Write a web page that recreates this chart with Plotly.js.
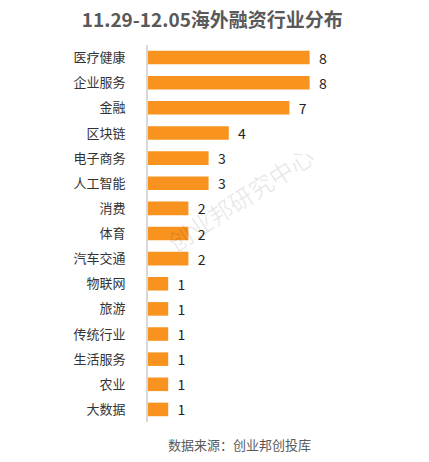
<!DOCTYPE html>
<html>
<head>
<meta charset="utf-8">
<script src="https://cdn.plot.ly/plotly-3.0.1.min.js"></script>
<style>html,body{margin:0;padding:0;background:#fff;}#chart{width:429px;height:462px;}</style>
</head>
<body>
<div id="chart"></div>
<script>
const categories = ["医疗健康","企业服务","金融","区块链","电子商务","人工智能","消费","体育","汽车交通","物联网","旅游","传统行业","生活服务","农业","大数据"];
const counts = [8,8,7,4,3,3,2,2,2,1,1,1,1,1,1];
const titleText = "11.29-12.05海外融资行业分布";
const sourceText = "数据来源：创业邦创投库";
const watermarkText = "创业邦研究中心";

const font = "'Noto Sans CJK SC', 'Microsoft YaHei', sans-serif";

const trace = {
  type: 'bar',
  orientation: 'h',
  y: categories,
  x: counts,
  marker: {color: '#F7931E', line: {width: 0}},
  text: counts.map(v => String(v)),
  textposition: 'outside',
  texttemplate: '  %{text}',
  constraintext: 'none',
  textfont: {family: font, size: 14, color: '#222'},
  cliponaxis: false,
  hoverinfo: 'none',
  width: 0.54
};

const layout = {
  width: 429, height: 462,
  margin: {l: 148, r: 78.5, t: 44.5, b: 39.5},
  paper_bgcolor: '#fff', plot_bgcolor: '#fff',
  showlegend: false,
  title: {text: '<b>' + titleText + '</b>', font: {family: font, size: 19, color: '#595959'}, x: 0.495, xanchor: 'center', y: 0.956, yanchor: 'middle'},
  xaxis: {range: [0, 10], visible: false, fixedrange: true},
  yaxis: {
    type: 'category', autorange: 'reversed',
    showline: true, linecolor: '#d9d9d9', linewidth: 2,
    showgrid: false, zeroline: false, ticks: '',
    ticklabelstandoff: 18,
    tickfont: {family: font, size: 13, color: '#333'}
  },
  annotations: [
    {text: sourceText, showarrow: false, xref: 'paper', yref: 'paper',
     font: {family: font, size: 13, color: '#595959'}},
    {text: watermarkText, showarrow: false, xref: 'paper', yref: 'paper',
     textangle: -33, font: {family: font, size: 24, color: 'rgba(0,0,0,0.09)'}}
  ]
};
// convert pixel positions for annotations to paper coords
const pw = 429 - 148 - 78.5, ph = 462 - 44.5 - 39.5;
layout.annotations[0].x = (313 - 148) / pw; layout.annotations[0].xanchor = 'right';
layout.annotations[0].y = (462 - 39.5 - 445) / ph; layout.annotations[0].yanchor = 'middle';
layout.annotations[1].x = (240 - 148) / pw; layout.annotations[1].xanchor = 'center';
layout.annotations[1].y = (462 - 39.5 - 198) / ph; layout.annotations[1].yanchor = 'middle';

Plotly.newPlot('chart', [trace], layout, {displayModeBar: false, staticPlot: true});
</script>
</body>
</html>
